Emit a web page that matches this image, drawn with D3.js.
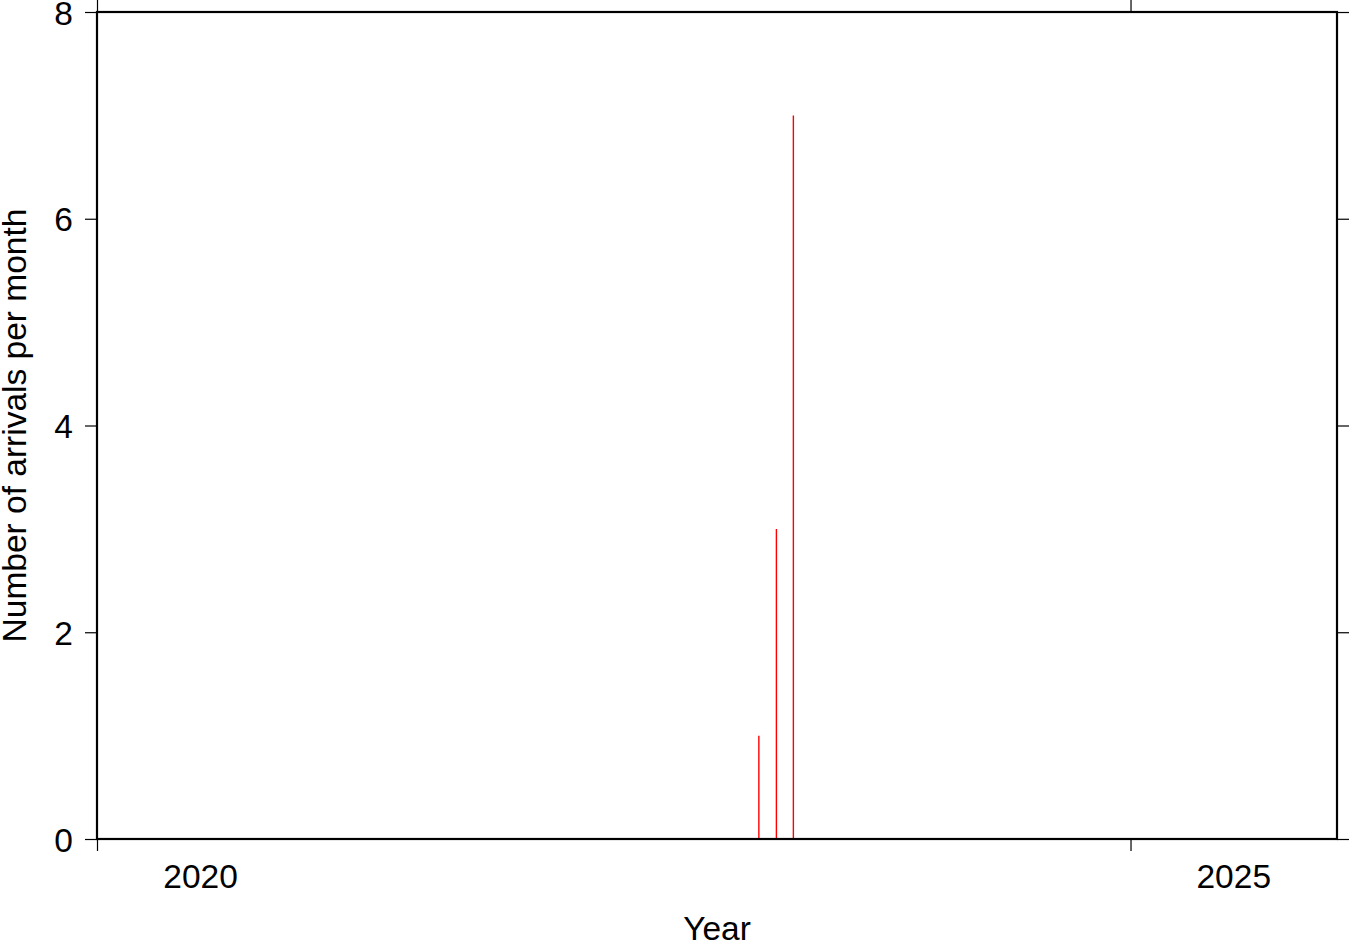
<!DOCTYPE html>
<html>
<head>
<meta charset="utf-8">
<script src="https://cdn.jsdelivr.net/npm/d3@7"></script>
<style>
  html, body { margin: 0; padding: 0; background: #fff; }
  svg { display: block; font-family: "Liberation Sans", Arial, Helvetica, sans-serif; }
</style>
</head>
<body>
<svg id="chart" width="1350" height="942"></svg>
<script>
// ---- data ----
const monthDates = ["2023-03-16", "2023-04-16", "2023-05-16"];
const arrivals = [1, 3, 7];
const yTickValues = [0, 2, 4, 6, 8];
const xTickYears = [2020, 2025];
const xLabelYears = ["2020", "2025"];
const xDomainYears = [2020, 2026];
const yDomain = [0, 8];
const xTitle = "Year";
const yTitle = "Number of arrivals per month";

// ---- layout ----
const plotL = 97, plotR = 1337, plotT = 12, plotB = 839;
const svg = d3.select("#chart");

const x = d3.scaleUtc()
  .domain(xDomainYears.map(yr => new Date(Date.UTC(yr, 0, 1))))
  .range([plotL, plotR]);
const y = d3.scaleLinear().domain(yDomain).range([plotB, plotT]);

const fontSize = 33.5;

// bars
svg.append("g").selectAll("line")
  .data(monthDates.map((d, i) => ({ date: new Date(d + "T00:00:00Z"), v: arrivals[i] })))
  .join("line")
  .attr("x1", d => x(d.date)).attr("x2", d => x(d.date))
  .attr("y1", y(0)).attr("y2", d => y(d.v))
  .attr("stroke", "#ff0000").attr("stroke-width", 1.4);

// axes (ticks only)
const xTickDates = xTickYears.map(yr => new Date(Date.UTC(yr, 0, 1)));
function styleAxis(g) {
  g.select(".domain").remove();
  g.selectAll(".tick line").attr("stroke", "#000").attr("stroke-width", 1.2);
  g.selectAll(".tick text").remove();
}
svg.append("g").attr("transform", `translate(0,${plotB})`)
  .call(d3.axisBottom(x).tickValues(xTickDates).tickSize(12)).call(styleAxis);
svg.append("g").attr("transform", `translate(0,${plotT})`)
  .call(d3.axisTop(x).tickValues(xTickDates).tickSize(12)).call(styleAxis);
svg.append("g").attr("transform", `translate(${plotR},0)`)
  .call(d3.axisRight(y).tickValues(yTickValues).tickSize(12)).call(styleAxis);

const yAxis = svg.append("g").attr("transform", `translate(${plotL},0)`)
  .call(d3.axisLeft(y).tickValues(yTickValues).tickSize(12).tickPadding(12).tickFormat(d3.format("d")));
yAxis.select(".domain").remove();
yAxis.selectAll(".tick line").attr("stroke", "#000").attr("stroke-width", 1.2);
yAxis.selectAll(".tick text")
  .attr("font-size", fontSize).attr("fill", "#000")
  .attr("font-family", "Liberation Sans, Arial, sans-serif")
  .attr("dy", "0.36em");

// x labels centered in year interval
svg.append("g").selectAll("text")
  .data(xLabelYears)
  .join("text")
  .attr("x", d => (x(new Date(Date.UTC(+d, 0, 1))) + x(new Date(Date.UTC(+d + 1, 0, 1)))) / 2)
  .attr("y", 888)
  .attr("text-anchor", "middle")
  .attr("font-size", fontSize)
  .text(d => d);

// frame
svg.append("rect")
  .attr("x", plotL).attr("y", plotT)
  .attr("width", plotR - plotL).attr("height", plotB - plotT)
  .attr("fill", "none").attr("stroke", "#000").attr("stroke-width", 2.2);

// titles
svg.append("text")
  .attr("x", (plotL + plotR) / 2).attr("y", 940)
  .attr("text-anchor", "middle").attr("font-size", fontSize)
  .text(xTitle);
svg.append("text")
  .attr("transform", `translate(25.5,${(plotT + plotB) / 2}) rotate(-90)`)
  .attr("text-anchor", "middle").attr("font-size", fontSize)
  .text(yTitle);
</script>
</body>
</html>
